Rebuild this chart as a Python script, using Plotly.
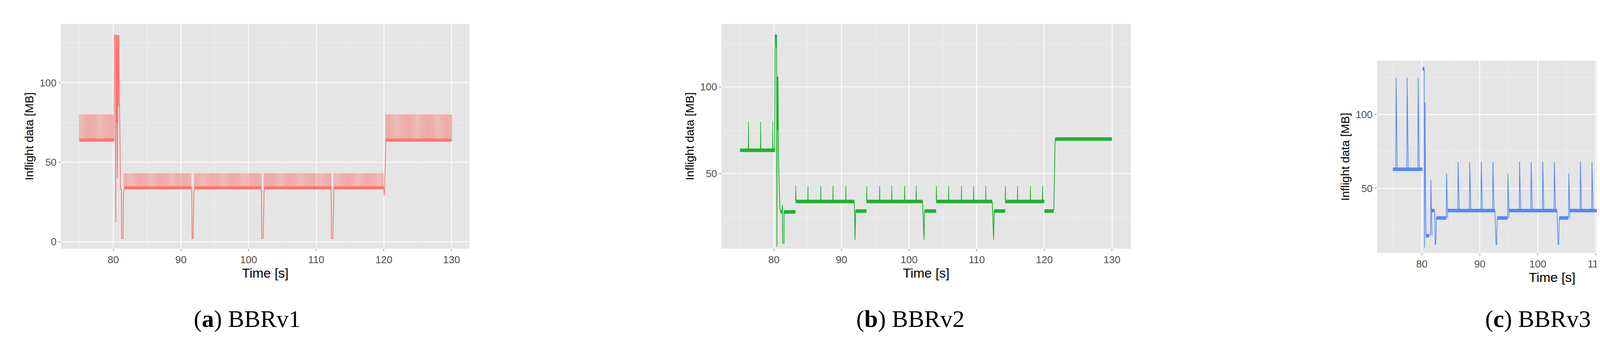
import plotly.graph_objects as go

W, H = 4459, 872

# ---- BBRv1 (red): dense sawtooth trains + hand read transitions
v1_trains = [  # start, end, period, base, peak
    (75.0, 80.1, 0.17, 63, 80),
    (81.6, 91.6, 0.17, 33, 43),
    (92.0, 101.9, 0.17, 33, 43),
    (102.3, 112.2, 0.17, 33, 43),
    (112.6, 120.0, 0.17, 33, 43),
    (120.3, 130.0, 0.17, 63, 80),
]
v1_bands = [(75.0, 80.1, 64), (81.6, 91.6, 34), (92.0, 101.9, 34),
            (102.3, 112.2, 34), (112.6, 120.0, 34), (120.3, 130.0, 64)]
v1_t = [80.1, 80.15, 80.3, 80.32, 80.36, 80.45, 80.5, 80.55, 80.62, 80.7, 80.75, 80.82, 80.9,
        81.0, 81.05, 81.2, 81.25, 81.45, 81.5, 81.6, None,
        91.6, 91.65, 91.8, 91.9, 92.0, None,
        101.9, 101.95, 102.15, 102.25, 102.3, None,
        112.2, 112.25, 112.45, 112.55, 112.6, None,
        120.0, 120.05, 120.1, 120.3]
v1_y = [63, 130, 130, 120, 12, 130, 75, 130, 40, 130, 85, 130, 90,
        63, 33, 33, 2, 2, 30, 33, None,
        33, 2, 2, 30, 33, None,
        33, 2, 2, 30, 33, None,
        33, 2, 2, 30, 33, None,
        33, 29, 35, 63]

# ---- BBRv2 (green)
v2_bands = [(75.0, 80.1, 63.5), (81.0, 81.3, 28), (81.5, 83.2, 28), (83.2, 91.9, 34),
            (92.1, 93.7, 28.5), (93.7, 102.0, 34), (102.3, 104.0, 28.5), (104.0, 112.3, 34),
            (112.6, 114.2, 28.5), (114.2, 120.0, 34), (120.0, 121.4, 28.5), (121.6, 130.0, 70)]
v2_spike_t = [76.2, 78.0, 79.8, 83.2, 85.0, 86.9, 88.7, 90.6, 93.7, 95.6, 97.4, 99.3, 101.0,
              104.0, 105.8, 107.7, 109.5, 111.3, 114.2, 116.0, 117.9, 119.7]
v2_spike_base = [64, 64, 64, 35, 35, 35, 35, 35, 35, 35, 35, 35, 35,
                 35, 35, 35, 35, 35, 35, 35, 35, 35]
v2_spike_peak = [80, 80, 80, 43, 43, 43, 43, 43, 43, 43, 43, 43, 43,
                 43, 43, 43, 43, 43, 43, 43, 43, 43]
v2_t = [80.1, 80.2, 80.3, 80.35, 80.4, 80.45, 80.5, 80.55, 80.6, 80.65, 80.7, 80.8, 80.9, 81.0,
        81.2, 81.25, 81.3, 81.5, 81.5, None,
        91.9, 92.0, 92.1, None, 102.0, 102.2, 102.3, None, 112.3, 112.5, 112.6, None,
        121.4, 121.5, 121.6]
v2_y = [63, 130, 130, 122, 130, 8, 106, 75, 106, 72, 58, 40, 30, 28,
        28, 32, 10, 10, 28, None,
        34, 12, 29, None, 34, 12, 29, None, 34, 12, 29, None,
        29, 50, 70]

# ---- BBRv3 (blue)
v3_bands = [(75.0, 80.1, 63), (80.1, 80.4, 131), (80.7, 81.3, 18), (81.7, 82.2, 35),
            (82.5, 84.2, 30), (84.4, 92.6, 35), (93.0, 94.8, 30), (95.0, 103.3, 35),
            (103.7, 105.3, 30), (105.5, 113.8, 35), (114.2, 115.8, 30), (116.0, 120.0, 35),
            (120.0, 121.6, 30), (122.0, 130.0, 63)]
v3_spike_t = [75.5, 77.4, 79.3, 81.5, 84.2, 86.2, 88.2, 90.2, 92.2, 94.8, 96.8, 98.8, 100.8,
              102.8, 105.3, 107.3, 109.3, 111.3, 113.3, 115.8, 117.8, 119.8, 121.8,
              123.7, 125.5, 127.4, 129.2]
v3_spike_base = [63, 63, 63, 18, 30, 35, 35, 35, 35, 30, 35, 35, 35,
                 35, 30, 35, 35, 35, 35, 30, 35, 35, 30,
                 63, 63, 63, 63]
v3_spike_peak = [125, 125, 125, 56, 60, 68, 68, 68, 68, 60, 68, 68, 68,
                 68, 60, 68, 68, 68, 68, 60, 68, 68, 124,
                 123, 123, 123, 123]
v3_t = [80.1, 80.4, 80.45, 80.55, 80.6, 80.65, 80.7, None, 81.7, 82.2, 82.3, 82.4, 82.5, None,
        92.6, 92.8, 92.9, 93.0, None, 103.3, 103.5, 103.6, 103.7, None, 113.8, 114.0, 114.1, 114.2]
v3_y = [131, 131, 10, 108, 75, 40, 18, None, 35, 35, 12, 12, 30, None,
        35, 12, 12, 30, None, 35, 12, 12, 30, None, 35, 12, 12, 30]

x_ticks = [80, 90, 100, 110, 120, 130]
captions = [("a", "BBRv1"), ("b", "BBRv2"), ("c", "BBRv3")]
colors = ["#F8766D", "#1DB22F", "#5588FF"]


def band_xy(bands):
    xs, ys = [], []
    for s, e, b in bands:
        xs += [s, e, None]
        ys += [b, b, None]
    return xs, ys


def train_xy(trains):
    xs, ys = [], []
    for s, e, p, base, peak in trains:
        t = s
        while t < e:
            xs += [t, t + 0.004, t + 0.01]
            ys += [base, peak, base]
            t += p
        xs.append(None)
        ys.append(None)
    return xs, ys


def spike_xy(ts, bases, peaks, fall):
    xs, ys = [], []
    for t, b, pk in zip(ts, bases, peaks):
        xs += [t, t + 0.05, t + fall, None]
        ys += [b, pk, b, None]
    return xs, ys


fig = go.Figure()

# panel geometry in pixels: x0, x1, y0(top), y1(bottom), x range, y range
panels = [
    (148, 1194, 53, 628, [72.26, 132.66], [-4.4, 137]),
    (1839, 2887, 53, 628, [72.25, 132.8], [6.8, 136.3]),
    (3517, 4414, 147, 639, [72.25, 132.7], [6.3, 136.5]),
]

series = []
bx, by = band_xy(v1_bands)
tx, ty = train_xy(v1_trains)
series.append([(bx, by, 7), (tx, ty, 1), (v1_t, v1_y, 2)])
bx, by = band_xy(v2_bands)
sx, sy = spike_xy(v2_spike_t, v2_spike_base, v2_spike_peak, 0.08)
series.append([(bx, by, 9), (sx, sy, 1.5), (v2_t, v2_y, 2)])
bx, by = band_xy(v3_bands)
sx, sy = spike_xy(v3_spike_t, v3_spike_base, v3_spike_peak, 0.25)
series.append([(bx, by, 9), (sx, sy, 1.8), (v3_t, v3_y, 1.8)])

layout = {}
for i, (x0, x1, y0, y1, xr, yr) in enumerate(panels):
    n = "" if i == 0 else str(i + 1)
    for xs, ys, w in series[i]:
        fig.add_trace(go.Scatter(x=xs, y=ys, mode="lines", xaxis="x" + n, yaxis="y" + n,
                                 line=dict(color=colors[i], width=w), showlegend=False,
                                 hoverinfo="skip", connectgaps=False))
    common = dict(showgrid=True, gridcolor="white", gridwidth=2, zeroline=False, automargin=False,
                  ticks="outside", ticklen=5, tickcolor="#333333", showline=False,
                  tickfont=dict(family="Liberation Sans Narrow, Liberation Sans", size=26, color="#4D4D4D"))
    layout["xaxis" + n] = dict(common, domain=[x0 / W, x1 / W], range=xr, anchor="y" + n,
                               tickvals=x_ticks, minor=dict(dtick=5, tick0=0, showgrid=True,
                                                            gridcolor="#F2F2F2", gridwidth=1),
                               title=dict(text="Time [s]", standoff=6,
                                          font=dict(family="Liberation Sans Narrow, Liberation Sans", size=34, color="black")))
    layout["yaxis" + n] = dict(common, domain=[1 - y1 / H, 1 - y0 / H], range=yr, anchor="x" + n,
                               tickvals=[0, 50, 100], minor=dict(dtick=25, tick0=0, showgrid=True,
                                                                 gridcolor="#F2F2F2", gridwidth=1),
                               title=dict(text="Inflight data [MB]", standoff=6,
                                          font=dict(family="Liberation Sans", size=30, color="black")))

cap_x = [625, 2322, 3929]
annotations = []
for (letter, name), cx in zip(captions, cap_x):
    annotations.append(dict(text="(<b>%s</b>) %s" % (letter, name), x=cx / W, y=1 - 807 / H,
                            xref="paper", yref="paper", showarrow=False,
                            xanchor="center", yanchor="middle",
                            font=dict(family="Liberation Serif", size=62, color="black")))

fig.update_layout(**layout)
fig.update_layout(width=W, height=H, autosize=False, margin=dict(l=0, r=0, t=0, b=0),
                  paper_bgcolor="white", plot_bgcolor="#E5E5E5", annotations=annotations)
fig.write_html("out.html")
